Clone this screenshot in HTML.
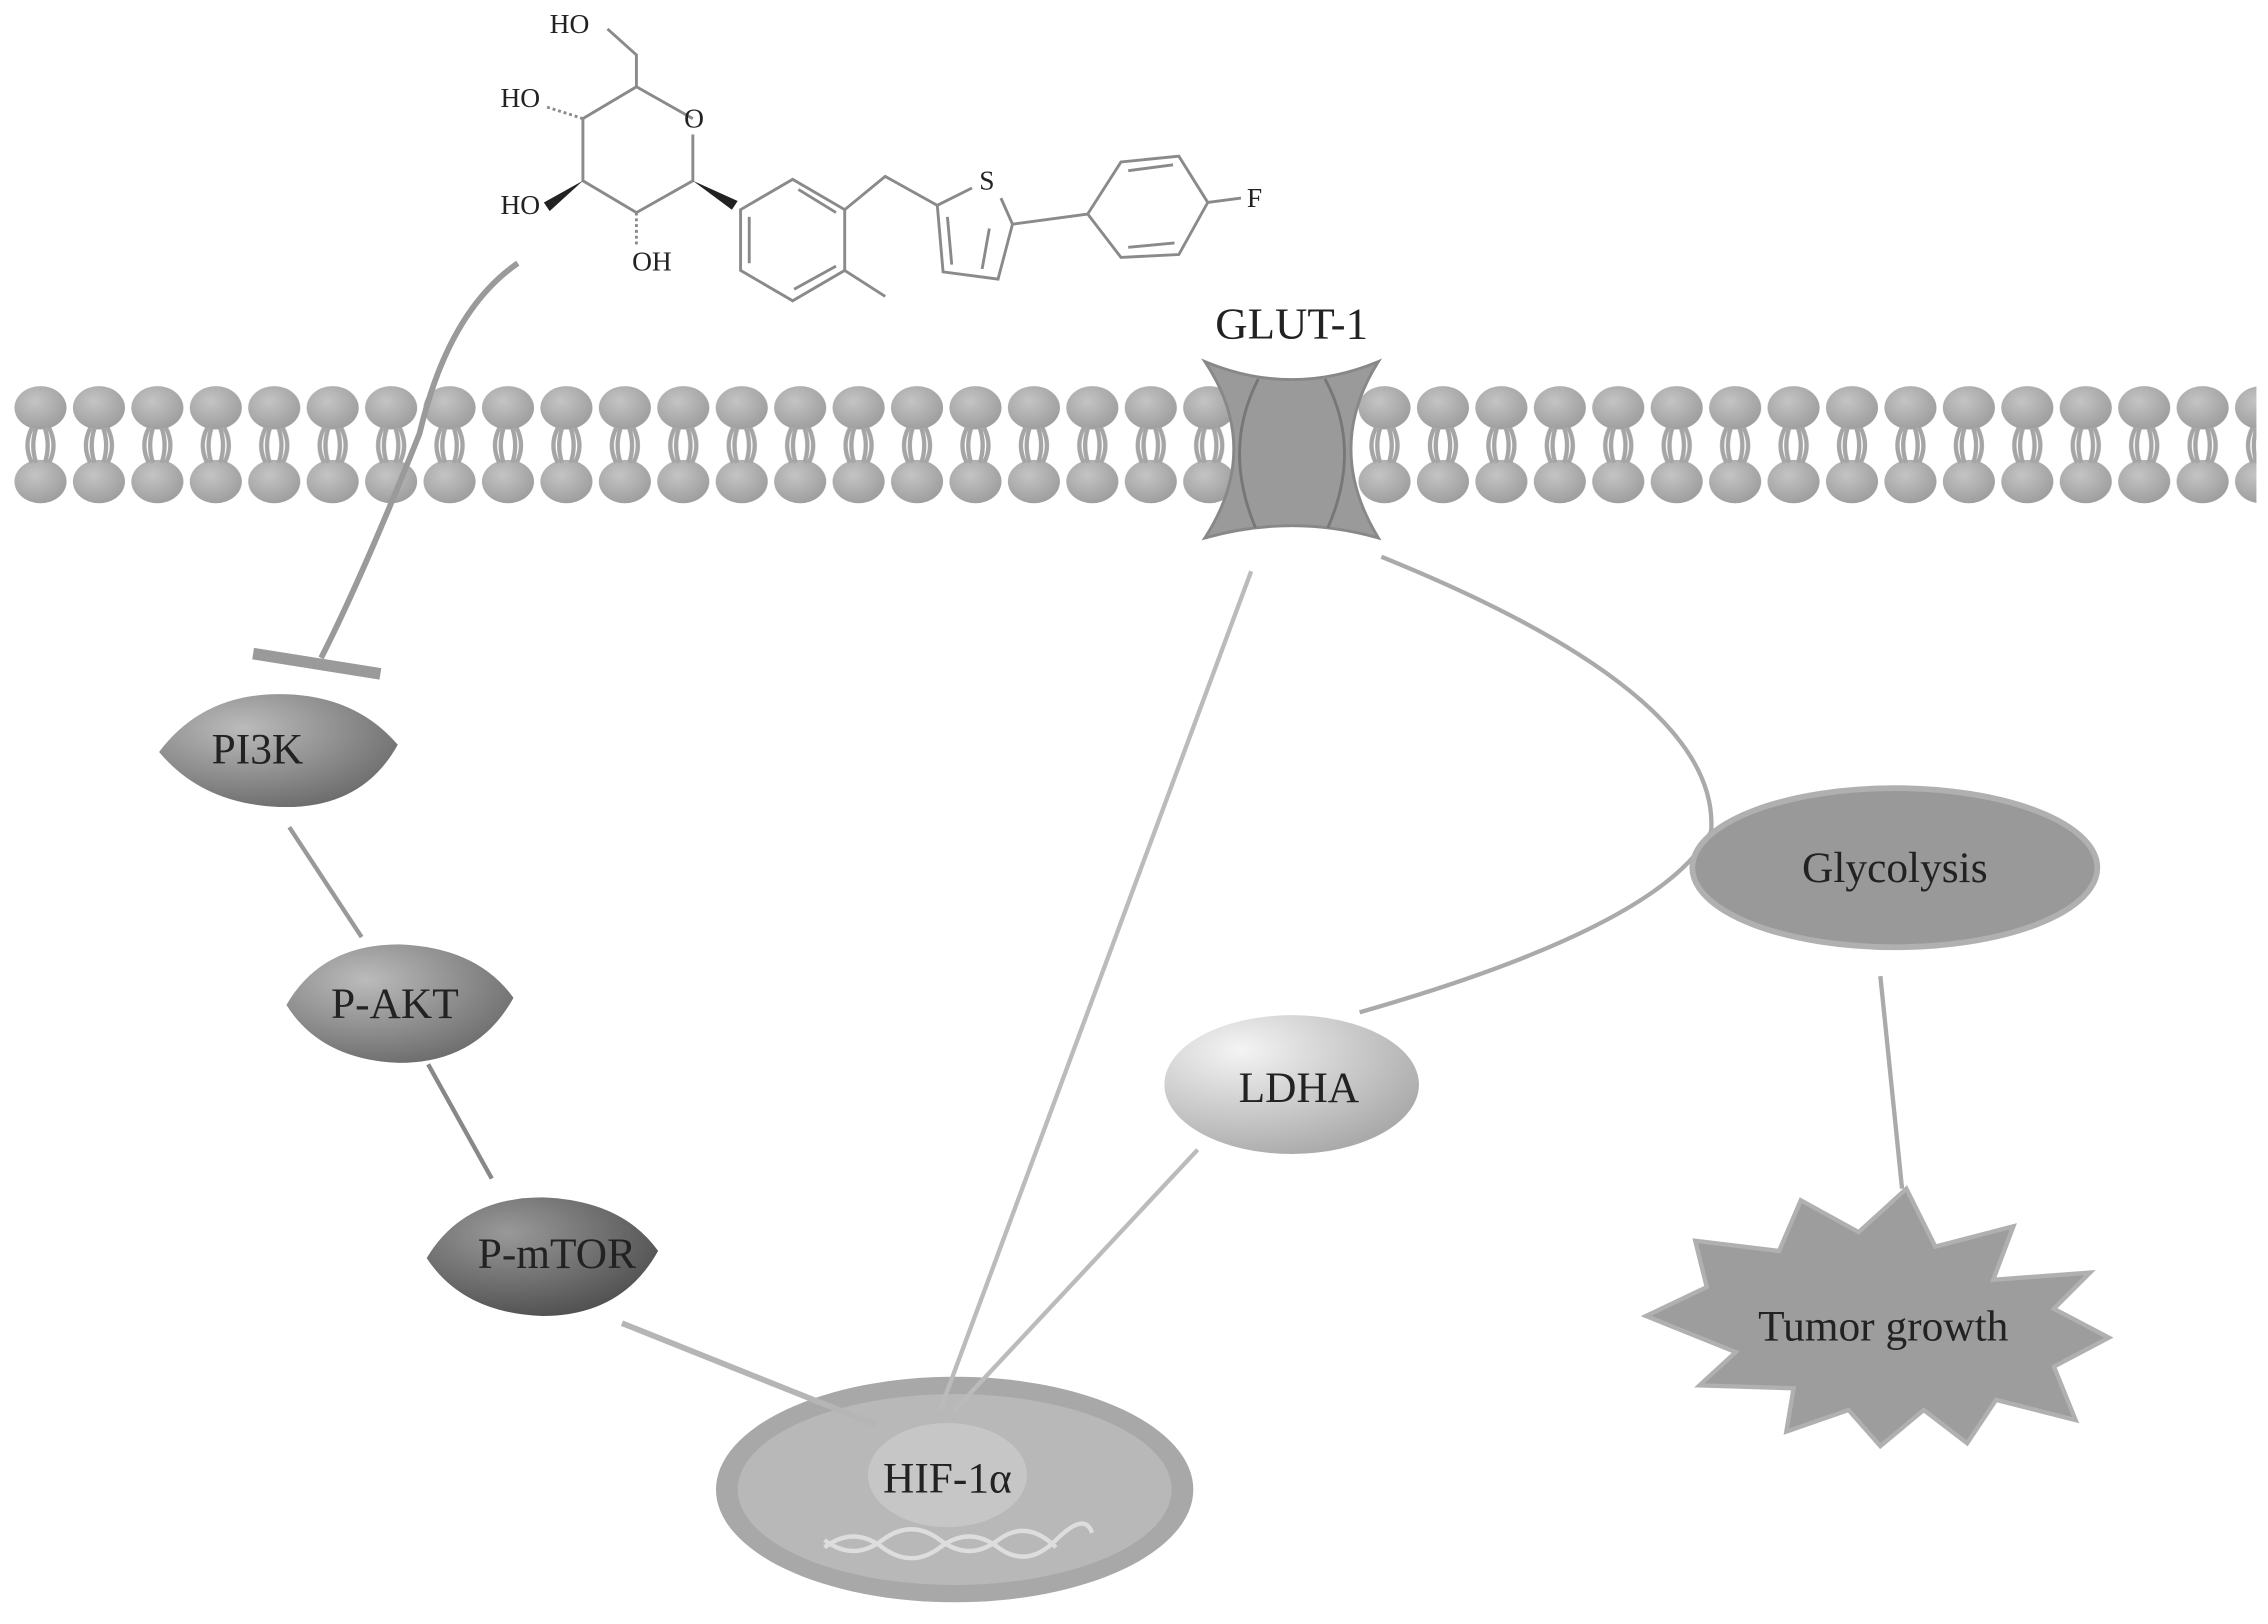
<!DOCTYPE html>
<html><head><meta charset="utf-8"><style>
html,body{margin:0;padding:0;background:#fff;}
svg{display:block;}
text{font-family:"Liberation Serif",serif;fill:#222;}
</style></head><body>
<svg width="2268" height="1624" viewBox="0 0 1568 1123" preserveAspectRatio="none" xmlns="http://www.w3.org/2000/svg">
<defs>
<radialGradient id="dk" cx="0.35" cy="0.3" r="0.8"><stop offset="0" stop-color="#bbb"/><stop offset="1" stop-color="#666"/></radialGradient>
<radialGradient id="dk2" cx="0.35" cy="0.3" r="0.8"><stop offset="0" stop-color="#999"/><stop offset="1" stop-color="#4a4a4a"/></radialGradient>
<radialGradient id="lt" cx="0.3" cy="0.25" r="0.8"><stop offset="0" stop-color="#f4f4f4"/><stop offset="1" stop-color="#aaa"/></radialGradient>
<radialGradient id="head" cx="0.4" cy="0.35" r="0.7"><stop offset="0" stop-color="#c4c4c4"/><stop offset="1" stop-color="#9c9c9c"/></radialGradient>
<pattern id="mem" x="8" y="0" width="40.4" height="1123" patternUnits="userSpaceOnUse">
<ellipse cx="20" cy="282" rx="18" ry="15" fill="url(#head)"/>
<ellipse cx="20" cy="333" rx="18" ry="15" fill="url(#head)"/>
<path d="M14 296 Q8 308 14 320 M26 296 Q32 308 26 320 M17 296 Q13 308 17 320 M23 296 Q27 308 23 320" stroke="#a5a5a5" stroke-width="3" fill="none"/>
</pattern>
</defs>
<rect width="1568" height="1123" fill="#fff"/>
<rect x="8" y="262" width="1552" height="92" fill="url(#mem)"/>
<!-- GLUT-1 -->
<path d="M833 250 Q893 275 953 250 Q915 310 953 372 Q893 355 833 372 Q873 310 833 250Z" fill="#9a9a9a" stroke="#888" stroke-width="2"/>
<path d="M870 262 Q845 310 868 365 M916 262 Q942 310 918 365" stroke="#777" stroke-width="2" fill="none"/>
<text x="893" y="234" font-size="31" text-anchor="middle">GLUT-1</text>
<!-- molecule -->
<g stroke="#8a8a8a" stroke-width="2" fill="none">
<path d="M440 60 L479 82 M479 93 L479 125 L440 147 L403 125 L403 82 L440 60 L440 38 L420 20"/>
<path d="M512 145 L548 124 L584 145 L584 187 L548 208 L512 187 Z M518 182 L518 150 M552 131 L578 147 M578 184 L549 200"/>
<path d="M584 145 L612 122 L648 142 L672 130 M692 137 L700 155 L690 193 L652 188 L648 142 M655 150 L658 183 M684 158 L679 186"/>
<path d="M700 155 L752 148 M752 148 L775 112 L815 108 L835 140 L815 176 L775 178 Z M780 118 L811 114 M812 168 L780 171 M835 140 L858 137 M584 187 L612 205"/>
<path d="M403 82 L378 74 M440 147 L440 170" stroke-dasharray="2 2"/>
</g>
<path d="M403 125 L376 140 L380 146Z M479 125 L506 145 L510 139Z" fill="#222"/>
<g font-size="19">
<text x="380" y="23">HO</text><text x="346" y="74">HO</text><text x="473" y="88">O</text>
<text x="346" y="148">HO</text><text x="437" y="187">OH</text><text x="677" y="131">S</text><text x="862" y="143">F</text>
</g>
<!-- inhibition -->
<path d="M358 182 Q310 215 290 300 Q250 400 222 455" stroke="#9a9a9a" stroke-width="4" fill="none"/>
<line x1="175" y1="452" x2="263" y2="466" stroke="#9a9a9a" stroke-width="8"/>
<!-- HIF -->
<ellipse cx="660" cy="1030" rx="165" ry="78" fill="#a8a8a8"/>
<ellipse cx="660" cy="1030" rx="150" ry="66" fill="#b8b8b8"/>
<ellipse cx="655" cy="1020" rx="55" ry="36" fill="#c6c6c6"/>
<!-- connectors -->
<g stroke="#aaa" stroke-width="3" fill="none">
<line x1="200" y1="572" x2="250" y2="648" stroke="#999"/>
<line x1="296" y1="736" x2="340" y2="815" stroke="#888"/>
<line x1="430" y1="915" x2="605" y2="985" stroke-width="4" stroke="#b5b5b5"/>
<line x1="865" y1="395" x2="650" y2="975" stroke="#bbb"/>
<line x1="828" y1="795" x2="660" y2="975" stroke="#bbb"/>
<path d="M955 385 Q1190 480 1183 575 Q1150 640 940 700" stroke="#aaa"/>
<line x1="1300" y1="675" x2="1315" y2="822" stroke="#aaa"/>
</g>
<text x="655" y="1032" font-size="30" text-anchor="middle">HIF-1α</text>
<path d="M570 1070 Q590 1055 610 1070 T650 1070 T690 1070 T730 1065 T755 1060 M570 1065 Q590 1080 610 1065 T650 1065 T690 1065 T730 1070" stroke="#ddd" stroke-width="3" fill="none"/>
<!-- nodes -->
<path d="M193 480 Q245 480 275 515 Q250 560 193 558 Q140 556 110 520 Q140 480 193 480Z" fill="url(#dk)"/>
<text x="178" y="528" font-size="30" text-anchor="middle">PI3K</text>
<path d="M276 653 Q330 655 355 690 Q330 735 276 735 Q222 733 198 695 Q222 653 276 653Z" fill="url(#dk)"/>
<text x="273" y="704" font-size="30" text-anchor="middle">P-AKT</text>
<path d="M375 828 Q430 830 455 865 Q430 910 375 910 Q320 908 295 870 Q320 828 375 828Z" fill="url(#dk2)"/>
<text x="385" y="877" font-size="30" text-anchor="middle">P-mTOR</text>
<ellipse cx="893" cy="750" rx="88" ry="48" fill="url(#lt)"/>
<text x="898" y="762" font-size="30" text-anchor="middle">LDHA</text>
<ellipse cx="1310" cy="600" rx="140" ry="55" fill="#999" stroke="#b0b0b0" stroke-width="4"/>
<text x="1310" y="610" font-size="30" text-anchor="middle">Glycolysis</text>
<polygon points="1318,822 1338,862 1392,848 1378,885 1445,880 1420,905 1458,925 1420,945 1435,982 1380,968 1360,998 1330,975 1300,1000 1278,975 1235,990 1240,960 1175,958 1200,935 1138,910 1180,890 1172,858 1230,865 1245,830 1285,852" fill="#9d9d9d" stroke="#b0b0b0" stroke-width="3"/>
<text x="1302" y="927" font-size="30" text-anchor="middle">Tumor growth</text>
</svg>
</body></html>
